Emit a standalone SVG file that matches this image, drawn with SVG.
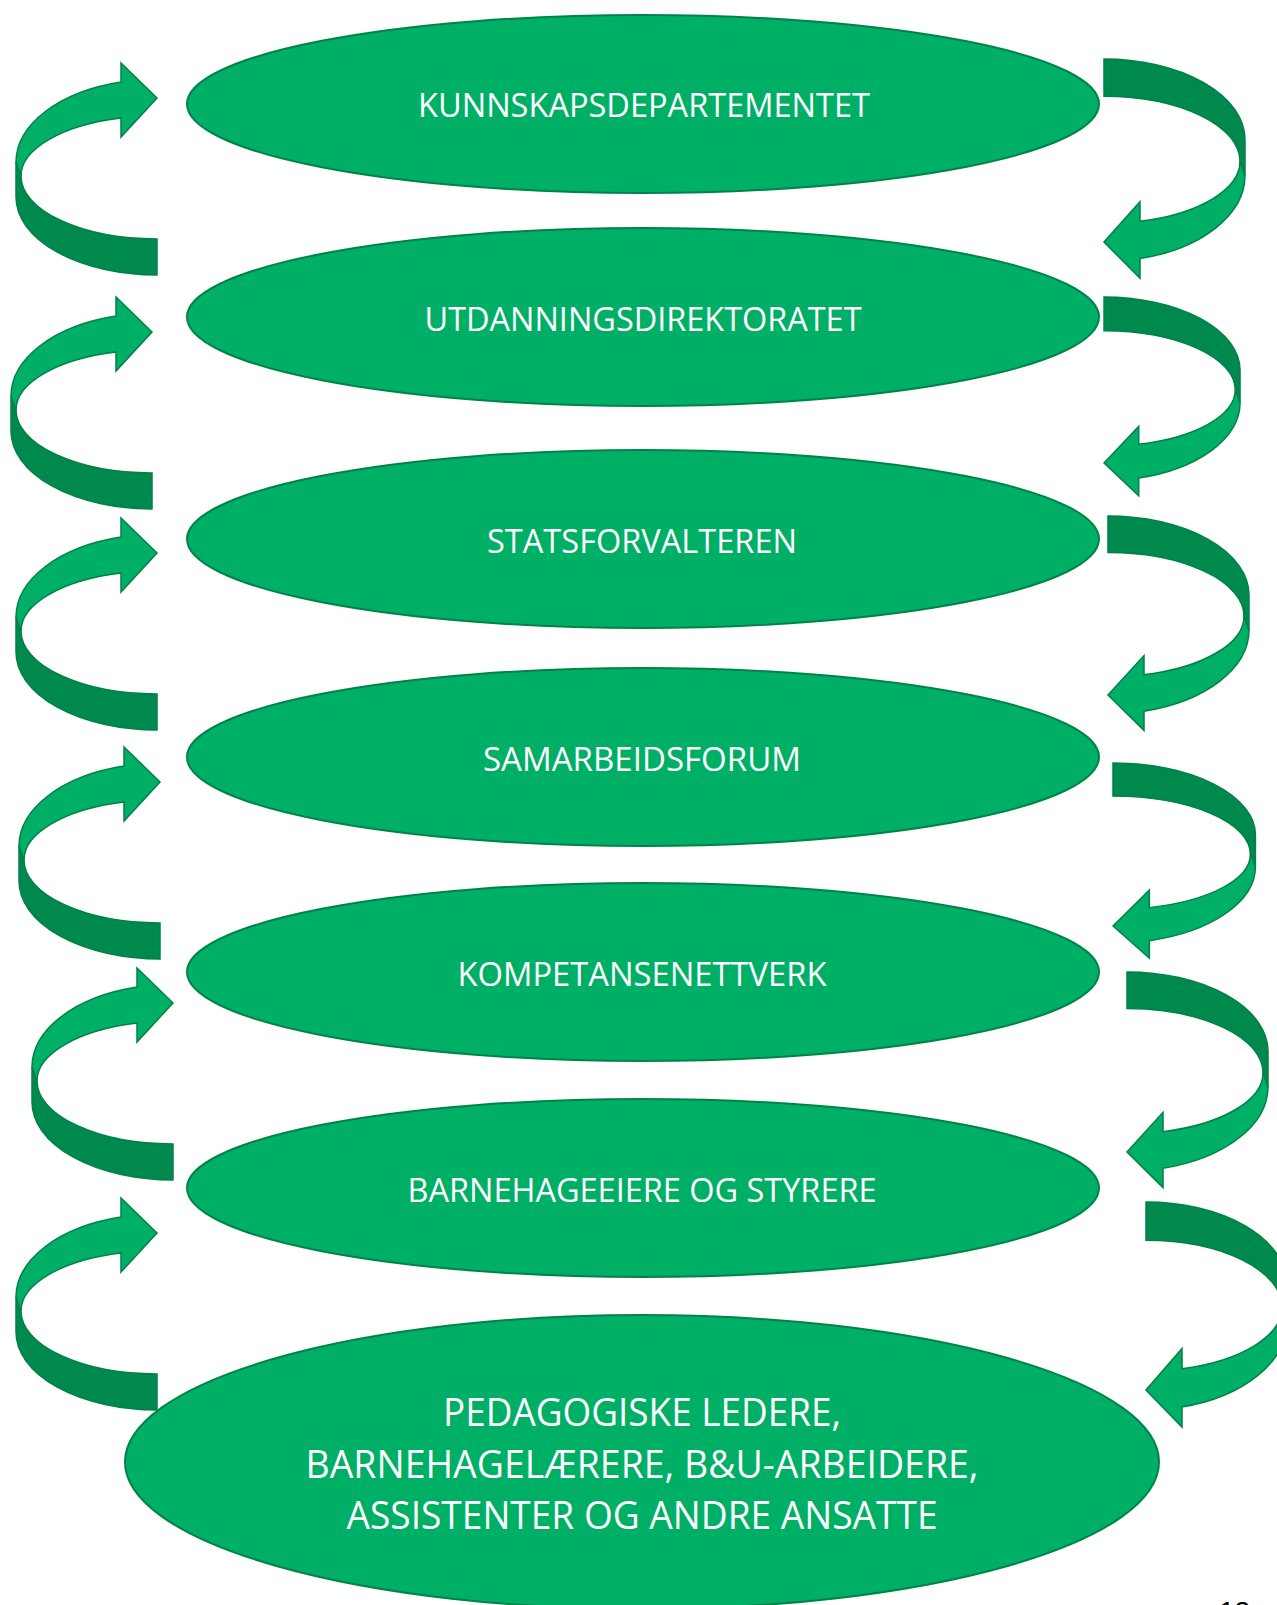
<svg xmlns="http://www.w3.org/2000/svg" xmlns:xlink="http://www.w3.org/1999/xlink" width="1277" height="1605" viewBox="0 0 1277 1605">
<style>
.node{fill:#00AF66;stroke:#00834A;stroke-width:2}
.lbl{fill:#FFFFFF;font-family:"Open Sans","Noto Sans","Liberation Sans",sans-serif;font-size:32.5px;text-anchor:middle}
.big{font-size:39px}
.light{fill:#00AF66;stroke:#00804A;stroke-width:1.5;stroke-linejoin:miter}
.dark{fill:#00894D;stroke:#00804A;stroke-width:1.5;stroke-linejoin:miter}
.pg{fill:#000000;font-family:"Liberation Sans","Open Sans",sans-serif;font-size:28px}
</style>
<defs>
<g id="carrow">
<path class="dark" d="M -141,64 L -141,99 A 141 78 0 0 0 0,177 L 0,141 A 136 63 0 0 1 -136,78 Z"/>
<path class="light" d="M -141,64 A 141 83 0 0 1 -36,-16 L -36,-35 L 0,0 L -36,39 L -36,20 A 136 60 0 0 0 -136,78 Z"/>
</g>
</defs>
<rect x="0" y="0" width="1277" height="1605" fill="#FFFFFF"/>
<g id="connectors">
<use xlink:href="#carrow" transform="translate(157,98)"/>
<use xlink:href="#carrow" transform="translate(152,332)"/>
<use xlink:href="#carrow" transform="translate(157,553)"/>
<use xlink:href="#carrow" transform="translate(160,782)"/>
<use xlink:href="#carrow" transform="translate(173,1003)"/>
<use xlink:href="#carrow" transform="translate(157,1233)"/>
<use xlink:href="#carrow" transform="translate(1104,242) scale(-1,-1.034)"/>
<use xlink:href="#carrow" transform="translate(1104,463) scale(-0.965,-0.938)"/>
<use xlink:href="#carrow" transform="translate(1108,695) scale(-1,-1.011)"/>
<use xlink:href="#carrow" transform="translate(1113,926) scale(-1.01,-0.921)"/>
<use xlink:href="#carrow" transform="translate(1127,1152) scale(-1,-1.017)"/>
<use xlink:href="#carrow" transform="translate(1146,1390) scale(-1,-1.062)"/>
</g>
<g id="n1">
<ellipse class="node" cx="643" cy="104" rx="456" ry="89"/>
<text class="lbl" x="644" y="117" textLength="452" lengthAdjust="spacingAndGlyphs">KUNNSKAPSDEPARTEMENTET</text>
</g>
<g id="n2">
<ellipse class="node" cx="643" cy="317" rx="456" ry="89"/>
<text class="lbl" x="643" y="331" textLength="437" lengthAdjust="spacingAndGlyphs">UTDANNINGSDIREKTORATET</text>
</g>
<g id="n3">
<ellipse class="node" cx="643" cy="539" rx="456" ry="89"/>
<text class="lbl" x="642" y="553" textLength="310" lengthAdjust="spacingAndGlyphs">STATSFORVALTEREN</text>
</g>
<g id="n4">
<ellipse class="node" cx="643" cy="757" rx="456" ry="89"/>
<text class="lbl" x="642" y="771" textLength="318" lengthAdjust="spacingAndGlyphs">SAMARBEIDSFORUM</text>
</g>
<g id="n5">
<ellipse class="node" cx="643" cy="972" rx="456" ry="89"/>
<text class="lbl" x="642" y="986" textLength="369" lengthAdjust="spacingAndGlyphs">KOMPETANSENETTVERK</text>
</g>
<g id="n6">
<ellipse class="node" cx="643" cy="1188" rx="456" ry="89"/>
<text class="lbl" x="642" y="1202" textLength="469" lengthAdjust="spacingAndGlyphs">BARNEHAGEEIERE OG STYRERE</text>
</g>
<g id="n7">
<ellipse class="node" cx="642" cy="1462" rx="517" ry="147"/>
<text class="lbl big" x="642" y="1426" textLength="398" lengthAdjust="spacingAndGlyphs">PEDAGOGISKE LEDERE,</text>
<text class="lbl big" x="642" y="1478" textLength="673" lengthAdjust="spacingAndGlyphs">BARNEHAGELÆRERE, B&amp;U-ARBEIDERE,</text>
<text class="lbl big" x="642" y="1529" textLength="591" lengthAdjust="spacingAndGlyphs">ASSISTENTER OG ANDRE ANSATTE</text>
</g>
<text class="pg" x="1219" y="1621">12</text>
</svg>
